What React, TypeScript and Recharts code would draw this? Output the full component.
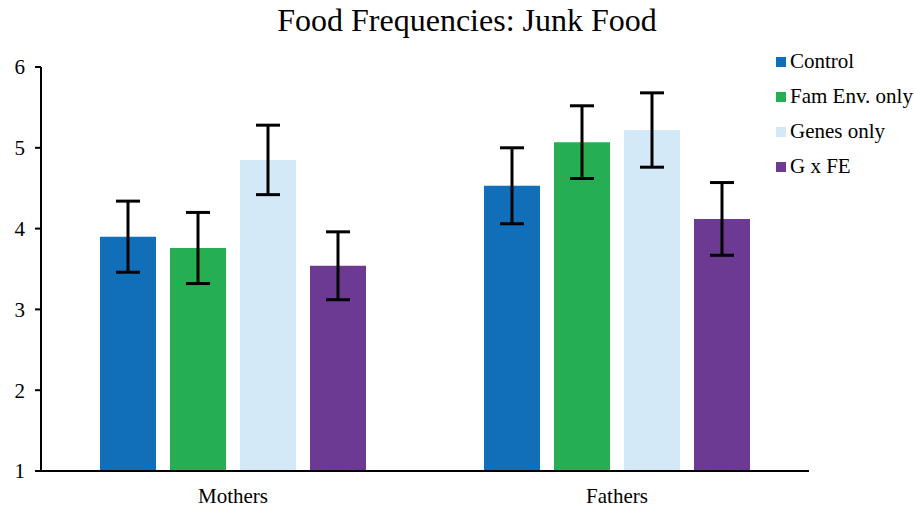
import React from 'react';
import { BarChart, Bar, XAxis, YAxis, ErrorBar } from 'recharts';

const categories = ['Mothers', 'Fathers'];
const control = [3.9, 4.53];
const famEnv = [3.76, 5.07];
const genes = [4.85, 5.22];
const gxfe = [3.54, 4.12];
const controlErr = [0.44, 0.47];
const famEnvErr = [0.44, 0.45];
const genesErr = [0.43, 0.46];
const gxfeErr = [0.42, 0.45];
const yTicks = [1, 2, 3, 4, 5, 6];

const series = [
  { key: 'control', name: 'Control', color: '#116fba' },
  { key: 'famEnv', name: 'Fam Env. only', color: '#25ae52' },
  { key: 'genes', name: 'Genes only', color: '#d4e9f8' },
  { key: 'gxfe', name: 'G x FE', color: '#6c3a93' },
];

const data = categories.map((name, i) => ({
  name,
  control: control[i],
  famEnv: famEnv[i],
  genes: genes[i],
  gxfe: gxfe[i],
  controlErr: controlErr[i],
  famEnvErr: famEnvErr[i],
  genesErr: genesErr[i],
  gxfeErr: gxfeErr[i],
}));

const FONT = 'Liberation Serif';

export default function App() {
  return (
    <div style={{ position: 'absolute', left: 0, top: 0, width: 914, height: 507, background: '#fff' }}>
      <div
        style={{
          position: 'absolute',
          top: 2,
          left: 0,
          width: 934,
          textAlign: 'center',
          fontFamily: FONT,
          fontSize: 32,
          color: '#000',
        }}
      >
        Food Frequencies: Junk Food
      </div>
      <div style={{ position: 'absolute', left: 776, top: 44, fontFamily: FONT, fontSize: 21, color: '#000' }}>
        {series.map(s => (
          <div key={s.key} style={{ display: 'flex', alignItems: 'center', height: 35, whiteSpace: 'nowrap' }}>
            <div style={{ width: 10, height: 10, backgroundColor: s.color, marginRight: 4 }} />
            <span>{s.name}</span>
          </div>
        ))}
      </div>
      <BarChart
        width={914}
        height={507}
        data={data}
        margin={{ top: 67, right: 105, left: 0, bottom: 0 }}
        barGap={14}
        barSize={56}
      >
        <XAxis
          dataKey="name"
          height={36}
          tickLine={false}
          tickSize={0}
          tickMargin={17}
          axisLine={{ stroke: '#000', strokeWidth: 2 }}
          tick={{ fill: '#000', fontFamily: FONT, fontSize: 21 }}
        />
        <YAxis
          width={41}
          domain={[1, 6]}
          ticks={yTicks}
          interval={0}
          allowDataOverflow
          tickSize={6}
          tickMargin={10}
          axisLine={{ stroke: '#000', strokeWidth: 2 }}
          tickLine={{ stroke: '#000', strokeWidth: 2 }}
          tick={{ fill: '#000', fontFamily: FONT, fontSize: 21 }}
        />
        {series.map(s => (
          <Bar key={s.key} dataKey={s.key} name={s.name} fill={s.color} isAnimationActive={false}>
            <ErrorBar dataKey={`${s.key}Err`} width={12} stroke="#000" strokeWidth={3} direction="y" />
          </Bar>
        ))}
      </BarChart>
    </div>
  );
}
